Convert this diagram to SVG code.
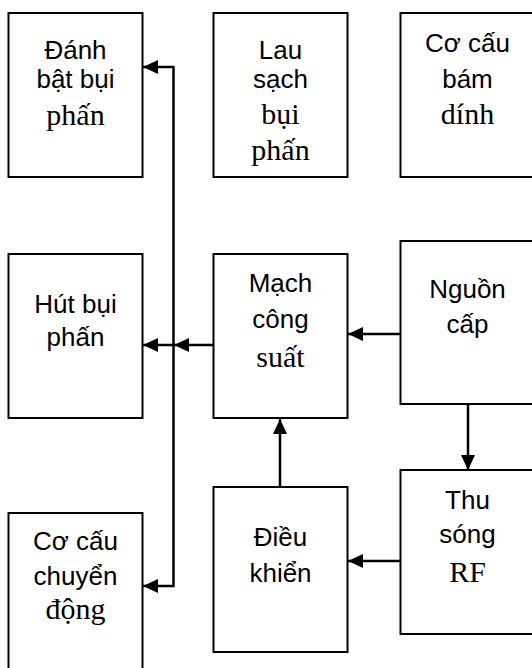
<svg xmlns="http://www.w3.org/2000/svg" width="532" height="668" viewBox="0 0 532 668">
<style>
.box{fill:#fff;stroke:#000;stroke-width:2}
.a{font-family:"Liberation Sans",Arial,sans-serif;font-size:26px;text-anchor:middle;fill:#000}
.t{font-family:"Liberation Serif","Times New Roman",serif;font-size:30px;text-anchor:middle;fill:#000}
.c{fill:none;stroke:#000;stroke-width:2.5}
</style>
<defs>
<marker id="ah" markerUnits="userSpaceOnUse" markerWidth="16" markerHeight="16" refX="15" refY="7" orient="auto">
<path d="M0,0 L15,7 L0,14 Z" fill="#000"/>
</marker>
</defs>
<rect width="532" height="668" fill="#fff"/>
<g id="connectors">
<path class="c" d="M173.5,340 V67 H143" marker-end="url(#ah)"/>
<path class="c" d="M173.5,340 V586 H143" marker-end="url(#ah)"/>
<path class="c" d="M213,345 H174" marker-end="url(#ah)"/>
<path class="c" d="M173.5,345 H143" marker-end="url(#ah)"/>
<path class="c" d="M400,334 H348" marker-end="url(#ah)"/>
<path class="c" d="M468,404 V470" marker-end="url(#ah)"/>
<path class="c" d="M400,561 H348" marker-end="url(#ah)"/>
<path class="c" d="M280,487 V419" marker-end="url(#ah)"/>
</g>
<g id="danh-bat-bui-phan">
<rect class="box" x="8.5" y="13" width="134" height="164"/>
<text class="a" x="75.5" y="59">Đánh</text>
<text class="a" x="75.5" y="88">bật bụi</text>
<text class="t" x="75.5" y="125">phấn</text>
</g>
<g id="lau-sach-bui-phan">
<rect class="box" x="213.5" y="13" width="134" height="164"/>
<text class="a" x="280.5" y="59">Lau</text>
<text class="a" x="280.5" y="88">sạch</text>
<text class="t" x="280.5" y="124">bụi</text>
<text class="t" x="280.5" y="160">phấn</text>
</g>
<g id="co-cau-bam-dinh">
<rect class="box" x="400.5" y="13" width="140" height="164"/>
<text class="a" x="467.5" y="52">Cơ cấu</text>
<text class="a" x="467.5" y="88">bám</text>
<text class="t" x="467.5" y="124">dính</text>
</g>
<g id="hut-bui-phan">
<rect class="box" x="8.5" y="254" width="134" height="164"/>
<text class="a" x="75.5" y="313">Hút bụi</text>
<text class="a" x="75.5" y="346">phấn</text>
</g>
<g id="mach-cong-suat">
<rect class="box" x="213.5" y="254" width="134" height="164"/>
<text class="a" x="280.5" y="292">Mạch</text>
<text class="a" x="280.5" y="328">công</text>
<text class="t" x="280.5" y="367">suất</text>
</g>
<g id="nguon-cap">
<rect class="box" x="400.5" y="241" width="140" height="163"/>
<text class="a" x="467.5" y="298">Nguồn</text>
<text class="a" x="467.5" y="333">cấp</text>
</g>
<g id="co-cau-chuyen-dong">
<rect class="box" x="8.5" y="513" width="134" height="170"/>
<text class="a" x="75.5" y="550">Cơ cấu</text>
<text class="a" x="75.5" y="585">chuyển</text>
<text class="t" x="75.5" y="619">động</text>
</g>
<g id="dieu-khien">
<rect class="box" x="213.5" y="487" width="134" height="165"/>
<text class="a" x="280.5" y="546">Điều</text>
<text class="a" x="280.5" y="582">khiển</text>
</g>
<g id="thu-song-rf">
<rect class="box" x="400.5" y="470" width="140" height="164"/>
<text class="a" x="467.5" y="509">Thu</text>
<text class="a" x="467.5" y="543">sóng</text>
<text class="t" x="467.5" y="582">RF</text>
</g>
</svg>
